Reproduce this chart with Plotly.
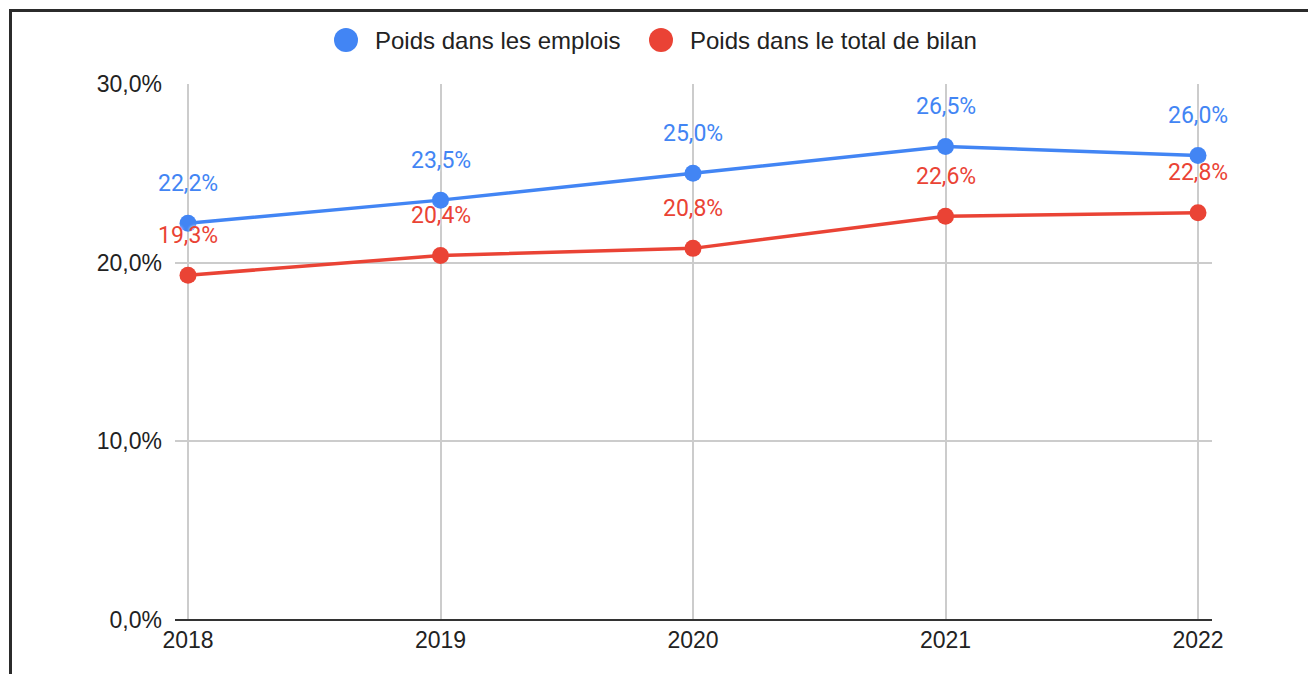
import plotly.graph_objects as go

years = [2018, 2019, 2020, 2021, 2022]
emplois = [22.2, 23.5, 25.0, 26.5, 26.0]
bilan = [19.3, 20.4, 20.8, 22.6, 22.8]
series_names = ["Poids dans les emplois", "Poids dans le total de bilan"]
colors = ["#4285F4", "#EA4335"]
y_ticks = [0, 10, 20, 30]
y_tick_labels = ["0,0%", "10,0%", "20,0%", "30,0%"]

OFF = 8  # page body margin
W_FIG, H_FIG = 1316 - OFF, 674 - OFF
L, R, T, B = 175 - OFF, 1212 - OFF, 84 - OFF, 620 - OFF


def px_x(p):
    return (p - OFF - L) / (R - L)


def px_y(p):
    return (B - (p - OFF)) / (B - T)


def fmt(v):
    return f"{v:.1f}".replace(".", ",") + "%"


fig = go.Figure()
for name, vals, col in zip(series_names, [emplois, bilan], colors):
    fig.add_trace(go.Scatter(
        x=years, y=vals, mode="lines+markers", name=name,
        line=dict(color=col, width=3.5),
        marker=dict(color=col, size=17),
        showlegend=False, hoverinfo="skip",
    ))

annotations = []
for vals, col in zip([emplois, bilan], colors):
    for x, v in zip(years, vals):
        annotations.append(dict(
            x=x, y=v, xref="x", yref="y", text=fmt(v), showarrow=False,
            yshift=40, xanchor="center", yanchor="middle",
            font=dict(family="Roboto, Arial, sans-serif", size=23, color=col,
                      shadow="0 0 3px white"),
        ))

# custom legend
shapes = []
leg_centers = [346, 661]
for name, col, cx in zip(series_names, colors, leg_centers):
    shapes.append(dict(
        type="circle", xref="paper", yref="paper",
        xsizemode="pixel", ysizemode="pixel",
        xanchor=px_x(cx), yanchor=px_y(40),
        x0=-12, x1=12, y0=-12, y1=12,
        fillcolor=col, line=dict(width=0),
    ))
    annotations.append(dict(
        x=px_x(cx + 27), y=px_y(40), xref="paper", yref="paper",
        text=name, showarrow=False, xanchor="left", yanchor="middle",
        font=dict(family="Arial, Liberation Sans, sans-serif", size=24, color="#222222"),
    ))

# outer border
shapes.append(dict(
    type="rect", xref="paper", yref="paper",
    x0=px_x(10.5), x1=px_x(1340), y0=px_y(10.5), y1=px_y(700),
    line=dict(color="#2b2b2b", width=3), fillcolor="rgba(0,0,0,0)", layer="above",
))

step = 252.5
tick_font = dict(family="Arial, Liberation Sans, sans-serif", size=23, color="#222222")
fig.update_layout(
    width=W_FIG, height=H_FIG,
    margin=dict(l=L, r=W_FIG - R, t=T, b=H_FIG - B, pad=0),
    paper_bgcolor="white", plot_bgcolor="white",
    annotations=annotations, shapes=shapes,
    showlegend=False,
    xaxis=dict(
        range=[years[0] - 13 / step, years[-1] + 14 / step],
        tickvals=years, ticktext=[str(y) for y in years],
        showgrid=True, gridcolor="#cccccc", gridwidth=2,
        zeroline=False, showline=False, ticks="", ticklabelstandoff=4,
        tickfont=tick_font,
        fixedrange=True,
    ),
    yaxis=dict(
        range=[0, 30], tickvals=y_ticks, ticktext=y_tick_labels,
        showgrid=True, gridcolor="#cccccc", gridwidth=2,
        zeroline=True, zerolinecolor="#333333", zerolinewidth=2,
        showline=False, ticks="", ticklabelstandoff=12,
        tickfont=tick_font,
        fixedrange=True,
    ),
)

fig.write_html("out.html", config={"displayModeBar": False})
